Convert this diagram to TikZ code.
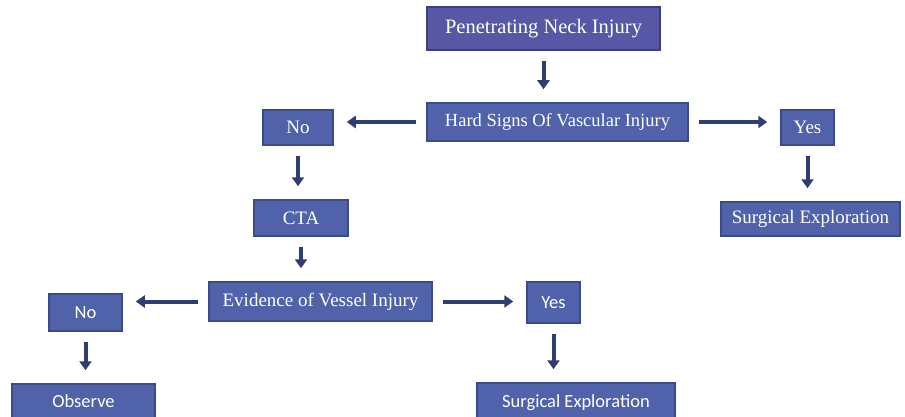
\documentclass[tikz,border=0pt]{standalone}
\usepackage{fontspec}
\setmainfont{Liberation Serif}
\newfontfamily\calibrifont{Carlito}
\usepackage{xcolor}
\usepackage{tikz}
\usetikzlibrary{arrows.meta,positioning}
\definecolor{boxblue}{HTML}{4F62AA}
\definecolor{boxedge}{HTML}{3A4A8A}
\definecolor{boxviolet}{HTML}{5658A5}
\definecolor{violetedge}{HTML}{3C3E80}
\definecolor{navy}{HTML}{2F3E72}
\tikzset{
  every node/.style={text=white},
  stepbox/.style={draw=boxedge,line width=1.5pt,fill=boxblue,inner sep=0pt,font=\fontsize{19}{21}\selectfont},
  startbox/.style={stepbox,fill=boxviolet,draw=violetedge,font=\fontsize{20.5}{22}\selectfont},
  sansbox/.style={stepbox,font=\calibrifont\fontsize{18.5}{20}\selectfont},
  flow/.style={-{Triangle[length=9pt,width=12pt]},line width=4pt,draw=navy,shorten <=10pt,shorten >=13pt}
}
\begin{document}
\begin{tikzpicture}[x=1pt,y=-1pt]
  \useasboundingbox (0,0) rectangle (905,417);
  \node[startbox,minimum width=233pt,minimum height=43pt] (pen) at (543.5,28.5) {Penetrating Neck Injury};
  \node[stepbox,minimum width=261pt,minimum height=38pt,font=\fontsize{18.5}{20}\selectfont] (hard) at (557.5,122) {Hard Signs Of Vascular Injury};
  \node[stepbox,minimum width=70pt,minimum height=35pt] (no1) at (298,127.5) {No};
  \node[stepbox,minimum width=53pt,minimum height=35pt] (yes1) at (807.5,127.5) {Yes};
  \node[stepbox,minimum width=179pt,minimum height=34pt] (surg1) at (810.5,219) {Surgical Exploration};
  \node[stepbox,minimum width=94pt,minimum height=36pt] (cta) at (301,218) {CTA};
  \node[stepbox,minimum width=223pt,minimum height=39pt] (evid) at (320.5,301.5) {Evidence of Vessel Injury};
  \node[sansbox,minimum width=73pt,minimum height=37pt] (no2) at (85.5,312.5) {No};
  \node[sansbox,minimum width=53pt,minimum height=41pt] (yes2) at (553.5,302.5) {Yes};
  \node[sansbox,minimum width=198pt,minimum height=40pt] (surg2) at (576,403) {Surgical Exploration};
  \node[sansbox,minimum width=143pt,minimum height=34pt] (obs) at (83.5,401) {Observe};

  \draw[flow] (pen.south) -- (pen.south |- hard.north);
  \draw[flow] (hard.west) -- (hard.west -| no1.east);
  \draw[flow] (hard.east) -- (hard.east -| yes1.west);
  \draw[flow] (yes1.south) -- (yes1.south |- surg1.north);
  \draw[flow] (no1.south) -- (no1.south |- cta.north);
  \draw[flow] (cta.south) -- (cta.south |- evid.north);
  \draw[flow] (evid.west) -- (evid.west -| no2.east);
  \draw[flow] (evid.east) -- (evid.east -| yes2.west);
  \draw[flow] (yes2.south) -- (yes2.south |- surg2.north);
  \draw[flow] (no2.south) -- (no2.south |- obs.north);
\end{tikzpicture}
\end{document}
